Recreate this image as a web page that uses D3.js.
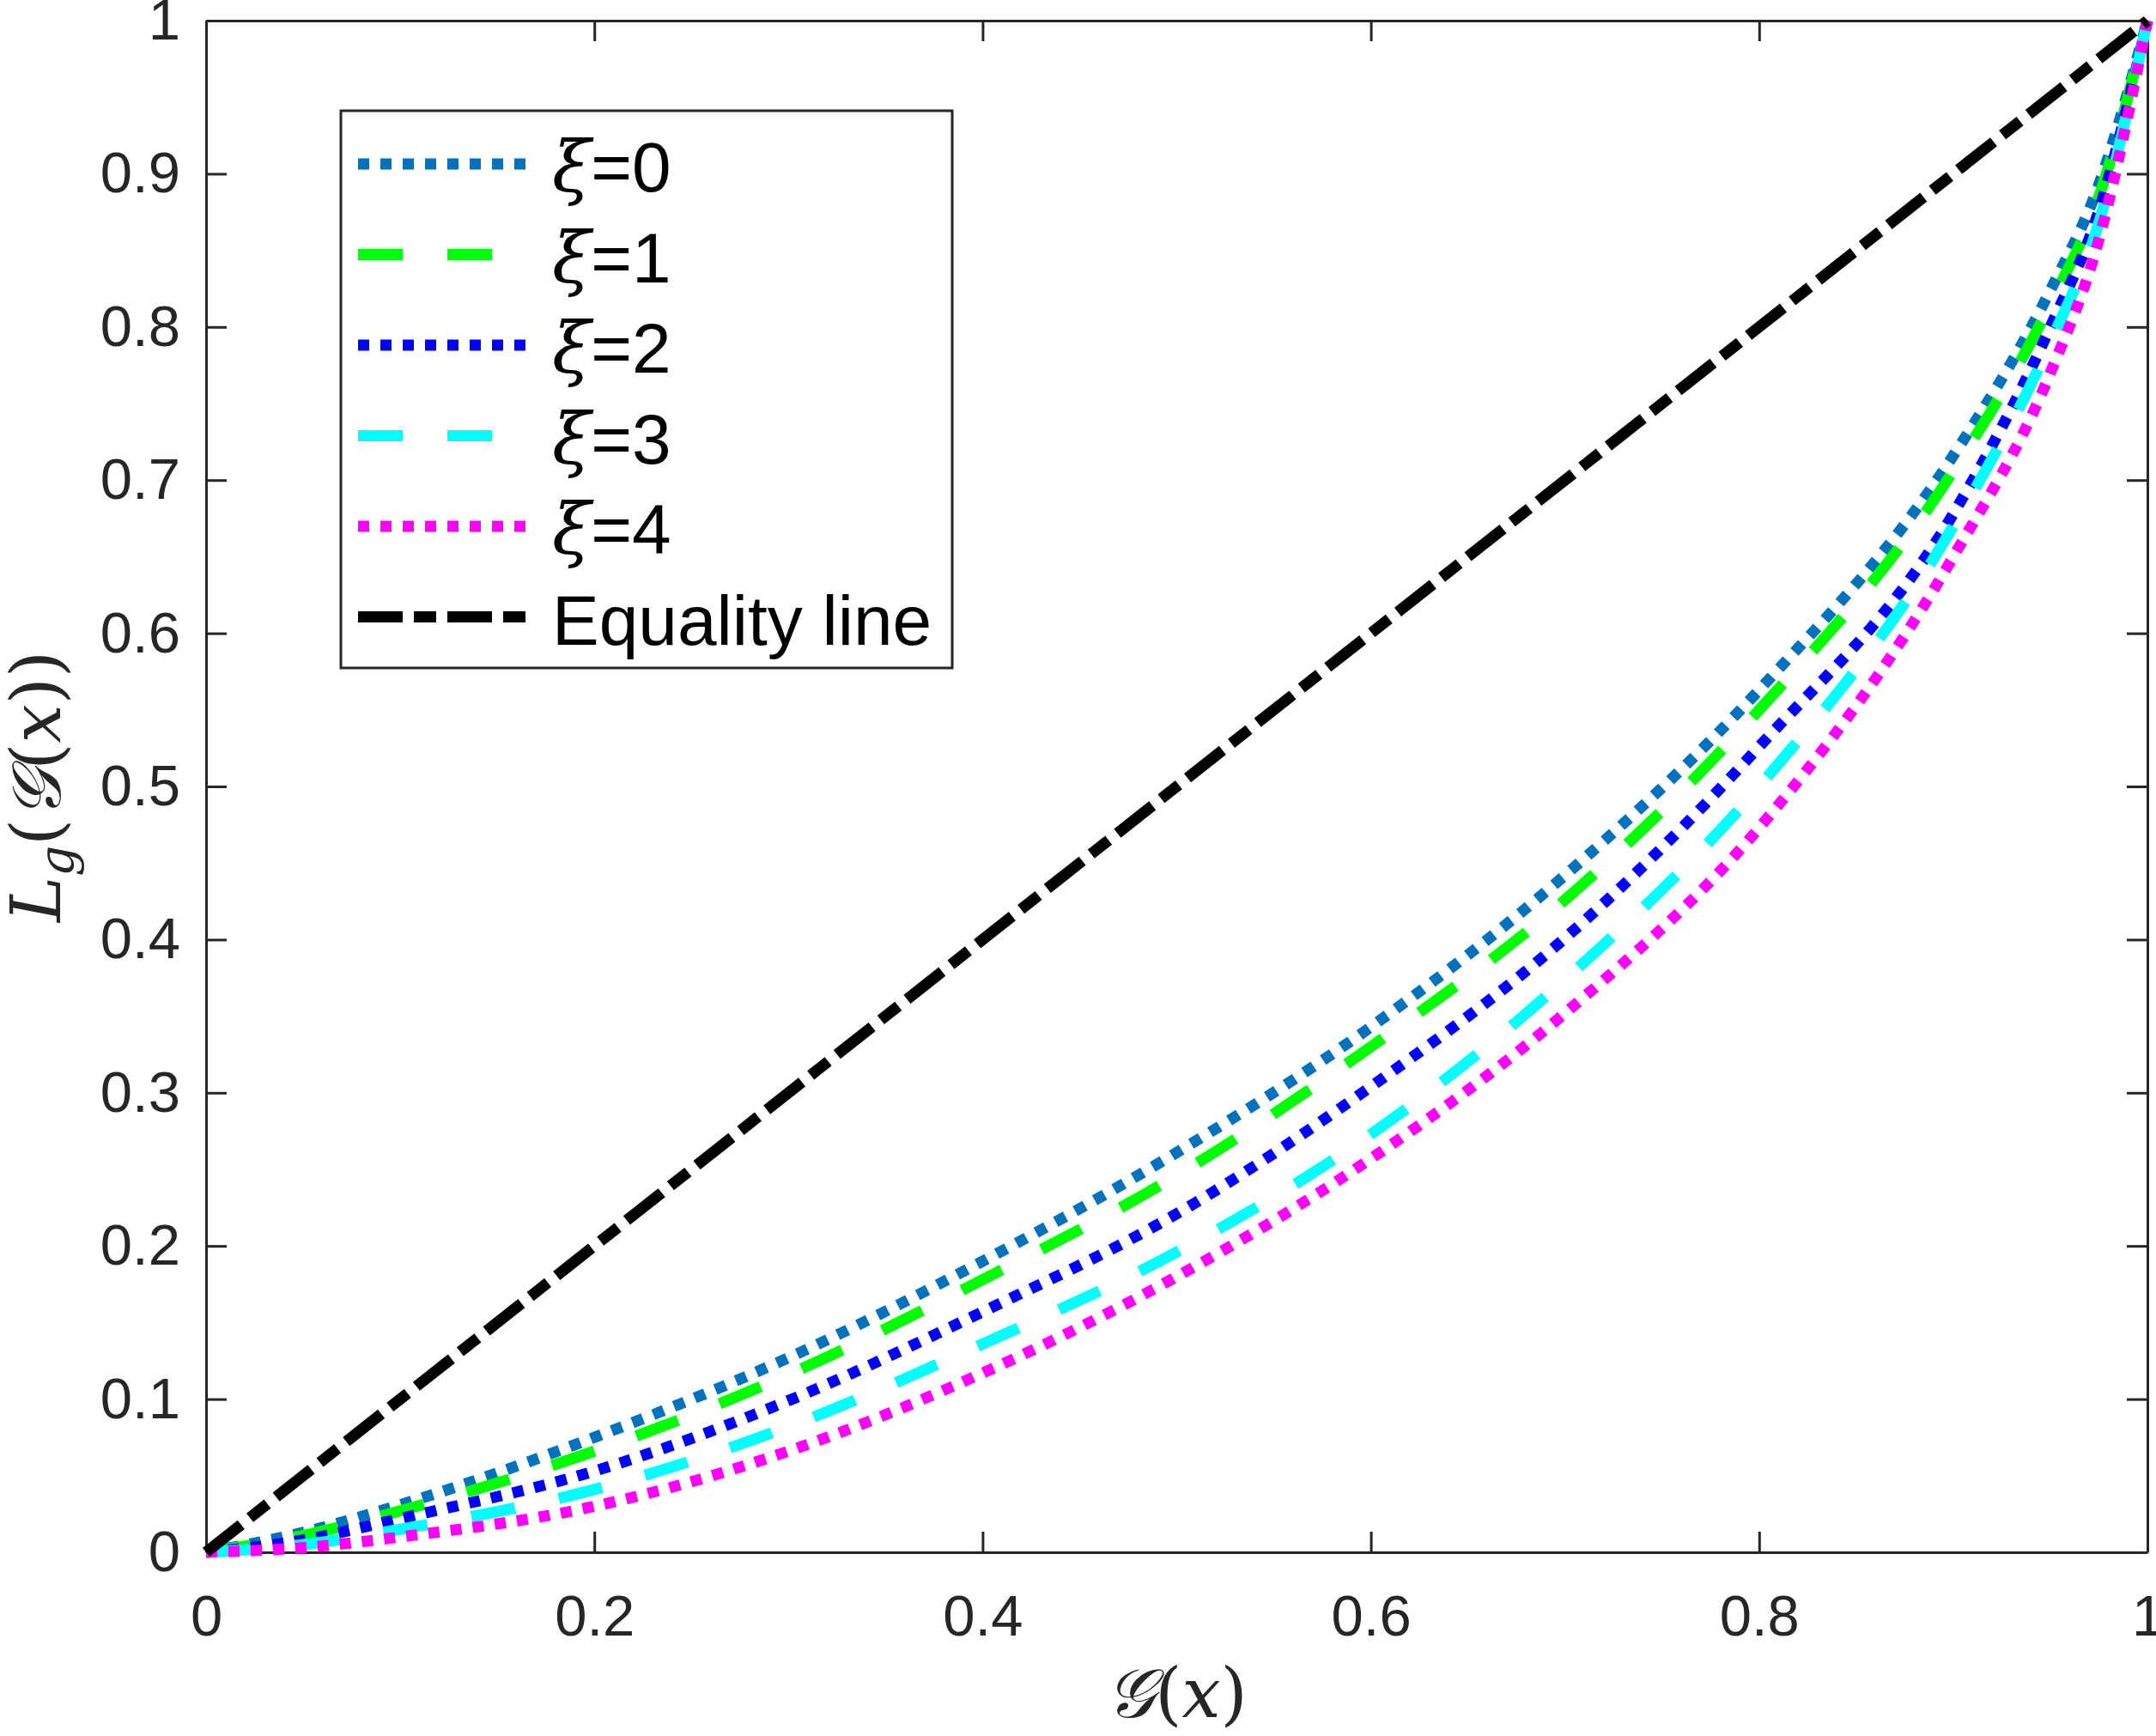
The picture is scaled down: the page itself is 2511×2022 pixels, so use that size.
<!DOCTYPE html>
<html>
<head>
<meta charset="utf-8">
<script src="https://cdn.jsdelivr.net/npm/d3@7"></script>
<style>
body { margin: 0; background: #fff; }
</style>
</head>
<body>
<div class="container"></div>
<script>
// values (Lorenz curves)
var gx  = [0, 0.05, 0.1, 0.2, 0.3, 0.4, 0.5, 0.6, 0.7, 0.8, 0.9, 0.95, 0.975, 1];
var xi0 = [0, 0.013, 0.031, 0.075, 0.127, 0.190, 0.261, 0.343, 0.442, 0.563, 0.716, 0.824, 0.893, 1];
var xi1 = [0, 0.011, 0.027, 0.066, 0.116, 0.178, 0.246, 0.330, 0.426, 0.550, 0.706, 0.815, 0.885, 1];
var xi2 = [0, 0.008, 0.022, 0.053, 0.099, 0.157, 0.221, 0.304, 0.401, 0.526, 0.678, 0.800, 0.876, 1];
var xi3 = [0, 0.005, 0.015, 0.041, 0.082, 0.136, 0.196, 0.273, 0.374, 0.500, 0.670, 0.790, 0.868, 1];
var xi4 = [0, 0.003, 0.010, 0.030, 0.066, 0.117, 0.180, 0.257, 0.352, 0.473, 0.650, 0.770, 0.857, 1];
var eqX = [0, 1];
var eqY = [0, 1];

var legendLabels = ["0", "1", "2", "3", "4"];
var xTicks = [0, 0.2, 0.4, 0.6, 0.8, 1];
var xTickLabels = ["0", "0.2", "0.4", "0.6", "0.8", "1"];
var yTicks = [0, 0.1, 0.2, 0.3, 0.4, 0.5, 0.6, 0.7, 0.8, 0.9, 1];
var yTickLabels = ["0", "0.1", "0.2", "0.3", "0.4", "0.5", "0.6", "0.7", "0.8", "0.9", "1"];

const WIDTH = 2511;
const HEIGHT = 2022;
const LEFT = 240, RIGHT = 2501, TOP = 24, BOTTOM = 1808;
const AXIS_COLOR = "#262626";
const SANS = "'Liberation Sans', Arial, Helvetica, sans-serif";
const SERIF = "'DejaVu Serif', 'Liberation Serif', serif";

var translate = function(x, y){
	return "translate(" + x + "," + y + ")";
};

var styles = [
	{color: "#0072BD", dash: "13,13"},
	{color: "#00FF00", dash: "52,52"},
	{color: "#0000FF", dash: "13,13"},
	{color: "#00FFFF", dash: "52,52"},
	{color: "#FF00FF", dash: "13,13"}
];
var eqStyle = {color: "#000000", dash: "52,13,26,13"};

var svg = d3.select('.container').append('svg')
	.attr('width', WIDTH)
	.attr('height', HEIGHT)
	.style('display', 'block');

svg.append('rect').attr('width', WIDTH).attr('height', HEIGHT).attr('fill', '#fff');

var xScale = d3.scaleLinear().domain([0, 1]).range([LEFT, RIGHT]);
var yScale = d3.scaleLinear().domain([0, 1]).range([BOTTOM, TOP]);

// axes, ticks pointing inward on all four sides
function styleAxis(g){
	g.select('.domain').attr('stroke', AXIS_COLOR).attr('stroke-width', 3);
	g.selectAll('.tick line').attr('stroke', AXIS_COLOR).attr('stroke-width', 3);
	g.selectAll('.tick text').attr('fill', AXIS_COLOR)
		.style('font-family', SANS).style('font-size', '67px');
}

svg.append('g')
	.attr('transform', translate(0, BOTTOM))
	.call(d3.axisBottom(xScale).tickValues(xTicks)
		.tickFormat(function(d, i){ return xTickLabels[i]; })
		.tickSizeInner(-24).tickSizeOuter(0).tickPadding(49))
	.call(styleAxis);

svg.append('g')
	.attr('transform', translate(0, TOP))
	.call(d3.axisTop(xScale).tickValues(xTicks).tickFormat("")
		.tickSizeInner(-24).tickSizeOuter(0))
	.call(styleAxis);

svg.append('g')
	.attr('transform', translate(LEFT, 0))
	.call(d3.axisLeft(yScale).tickValues(yTicks)
		.tickFormat(function(d, i){ return yTickLabels[i]; })
		.tickSizeInner(-24).tickSizeOuter(0).tickPadding(30))
	.call(styleAxis);

svg.append('g')
	.attr('transform', translate(RIGHT, 0))
	.call(d3.axisRight(yScale).tickValues(yTicks).tickFormat("")
		.tickSizeInner(-24).tickSizeOuter(0))
	.call(styleAxis);

// curves
var line = d3.line()
	.x(function(d){ return xScale(d[0]); })
	.y(function(d){ return yScale(d[1]); })
	.curve(d3.curveMonotoneX);

var allSeries = [xi0, xi1, xi2, xi3, xi4];
allSeries.forEach(function(ys, i){
	svg.append('path')
		.attr('d', line(gx.map(function(x, j){ return [x, ys[j]]; })))
		.attr('fill', 'none')
		.attr('stroke', styles[i].color)
		.attr('stroke-width', 13)
		.attr('stroke-dasharray', styles[i].dash)
		.attr('stroke-linecap', 'butt');
});

svg.append('path')
	.attr('d', line(eqX.map(function(x, j){ return [x, eqY[j]]; })))
	.attr('fill', 'none')
	.attr('stroke', eqStyle.color)
	.attr('stroke-width', 13)
	.attr('stroke-dasharray', eqStyle.dash)
	.attr('stroke-linecap', 'butt');

// legend
var legend = svg.append('g');
legend.append('rect')
	.attr('x', 397).attr('y', 129)
	.attr('width', 712).attr('height', 649)
	.attr('fill', '#fff')
	.attr('stroke', AXIS_COLOR)
	.attr('stroke-width', 3);

var rowY = function(i){ return 191 + 105.5 * i; };
var legendItems = styles.concat([eqStyle]);

legendItems.forEach(function(s, i){
	legend.append('line')
		.attr('x1', 417).attr('x2', 625)
		.attr('y1', rowY(i)).attr('y2', rowY(i))
		.attr('stroke', s.color)
		.attr('stroke-width', 13)
		.attr('stroke-dasharray', s.dash);

	var t = legend.append('text')
		.attr('x', 643).attr('y', rowY(i) + 32)
		.style('font-size', '82px')
		.attr('fill', '#000');
	if (i < legendLabels.length) {
		t.append('tspan').text('ξ')
			.style('font-family', SERIF).style('font-style', 'italic');
		t.append('tspan').text('=' + legendLabels[i])
			.style('font-family', SANS);
	} else {
		t.append('tspan').text('Equality line').style('font-family', SANS);
	}
});

// axis titles
var xl = svg.append('text')
	.attr('x', (LEFT + RIGHT) / 2).attr('y', 2000)
	.attr('text-anchor', 'middle')
	.style('font-family', SERIF).style('font-size', '80px')
	.attr('fill', AXIS_COLOR);
xl.append('tspan').text('𝒢').style('font-style', 'italic');
xl.append('tspan').text('(');
xl.append('tspan').text('x').style('font-style', 'italic');
xl.append('tspan').text(')');

var yl = svg.append('text')
	.attr('transform', translate(70, (TOP + BOTTOM) / 2) + ' rotate(-90)')
	.attr('text-anchor', 'middle')
	.style('font-family', SERIF).style('font-size', '80px')
	.attr('fill', AXIS_COLOR);
yl.append('tspan').text('L').style('font-style', 'italic');
yl.append('tspan').text('g').style('font-style', 'italic')
	.style('font-size', '56px').attr('dy', 16);
yl.append('tspan').text('(').attr('dy', -16);
yl.append('tspan').text('𝒢').style('font-style', 'italic');
yl.append('tspan').text('(');
yl.append('tspan').text('x').style('font-style', 'italic');
yl.append('tspan').text('))');
</script>
</body>
</html>
